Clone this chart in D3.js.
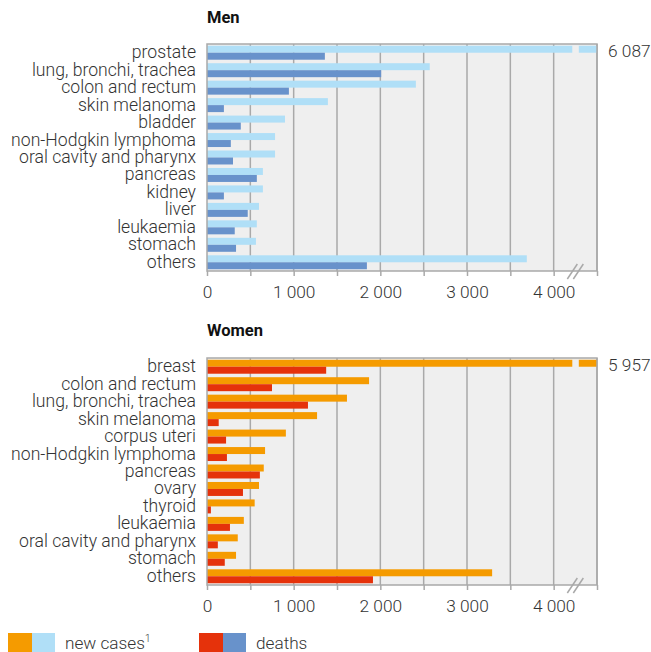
<!DOCTYPE html>
<html><head><meta charset="utf-8">
<script src="https://cdn.jsdelivr.net/npm/d3@7/dist/d3.min.js"></script>
<style>body{margin:0;background:#fff}text{font-family:Roboto,"Noto Sans",sans-serif}</style>
</head><body><svg id="c" width="651" height="652"></svg>
<script>
const menCategories = ["prostate","lung, bronchi, trachea","colon and rectum","skin melanoma","bladder","non-Hodgkin lymphoma","oral cavity and pharynx","pancreas","kidney","liver","leukaemia","stomach","others"];
const menNewCases = [6087,2570,2410,1395,900,785,785,645,645,600,575,565,3690];
const menDeaths = [1360,2010,945,195,390,275,300,575,195,470,320,335,1845];
const womenCategories = ["breast","colon and rectum","lung, bronchi, trachea","skin melanoma","corpus uteri","non-Hodgkin lymphoma","pancreas","ovary","thyroid","leukaemia","oral cavity and pharynx","stomach","others"];
const womenNewCases = [5957,1870,1615,1270,910,670,655,600,550,425,355,335,3290];
const womenDeaths = [1375,750,1165,135,220,230,610,415,45,265,125,205,1915];
const tickValues = [0,1000,2000,3000,4000];
const tickLabels = ["0","1 000","2 000","3 000","4 000"];

const svg = d3.select("#c");
const x = d3.scaleLinear().domain([0,4500]).range([207,597]);
const gridColor = "#a9a9a9", bg = "#efefef", txt = "#333";
const fmt = v => d3.format(",")(v).replace(/,/g," ");

function panel(title, titleY, top, bottom, cats, nc, de, cNew, cDeath){
  const y = d3.scaleBand().domain(cats).range([top,bottom]).paddingInner(0.2).paddingOuter(0.1);
  const g = svg.append("g");
  g.append("text").attr("x",207).attr("y",titleY).attr("font-weight","bold").attr("font-size",16.5).attr("fill","#111").text(title);
  g.append("rect").attr("x",x(0)).attr("y",top).attr("width",x(4500)-x(0)).attr("height",bottom-top).attr("fill",bg);
  g.selectAll(".gl").data(d3.range(500,4501,500)).join("line")
    .attr("x1",d=>x(d)).attr("x2",d=>x(d)).attr("y1",top).attr("y2",bottom)
    .attr("stroke",gridColor).attr("stroke-width",1.5);
  const bw = y.bandwidth()/2;
  const rows = cats.map((c,i)=>({c, n:nc[i], d:de[i]}));
  g.selectAll(".bn").data(rows).join("rect")
    .attr("x",x(0)).attr("y",r=>y(r.c)).attr("height",bw)
    .attr("width",r=>x(Math.min(r.n,4500))-x(0)).attr("fill",cNew);
  g.selectAll(".bd").data(rows).join("rect")
    .attr("x",x(0)).attr("y",r=>y(r.c)+bw).attr("height",bw)
    .attr("width",r=>x(Math.min(r.d,4500))-x(0)).attr("fill",cDeath);
  const br = rows.filter(r=>r.n>4500);
  g.selectAll(".gap").data(br).join("rect")
    .attr("x",x(4215)).attr("y",r=>y(r.c)-0.5).attr("width",x(4290)-x(4215)).attr("height",bw+1).attr("fill",bg);
  g.selectAll(".vl").data(br).join("text")
    .attr("x",608).attr("y",r=>y(r.c)+bw+4).attr("font-size",17.3).attr("font-weight",300).attr("fill",txt).text(r=>fmt(r.n));
  g.append("rect").attr("x",x(0)).attr("y",top).attr("width",x(4500)-x(0)).attr("height",bottom-top)
    .attr("fill","none").attr("stroke",gridColor).attr("stroke-width",1.5);
  g.selectAll(".cl").data(cats).join("text")
    .attr("x",196).attr("y",c=>y(c)+y.bandwidth()/2+5.5).attr("text-anchor","end")
    .attr("font-size",17.6).attr("font-weight",300).attr("fill",txt).text(c=>c);
  const axis = d3.axisBottom(x).tickValues(d3.range(0,4501,500)).tickSize(5).tickFormat(d=>{const i=tickValues.indexOf(d);return i>=0?tickLabels[i]:"";});
  const ag = g.append("g").attr("transform",`translate(0,${bottom})`).call(axis);
  ag.select(".domain").remove();
  ag.selectAll(".tick line").attr("stroke",gridColor).attr("stroke-width",1.5);
  ag.selectAll(".tick text").attr("font-size",17.3).attr("font-weight",300).attr("fill",txt).attr("dy","1.1em").style("font-family","Roboto");
  const bx = x(4250);
  [-3,3].forEach(o=>{
    g.append("line").attr("x1",bx+o-5).attr("y1",bottom+8).attr("x2",bx+o+5).attr("y2",bottom-7)
      .attr("stroke",gridColor).attr("stroke-width",1.5);
  });
}

panel("Men",23,44,271,menCategories,menNewCases,menDeaths,"#b0dff7","#6892cb");
panel("Women",336,358,585,womenCategories,womenNewCases,womenDeaths,"#f59b00","#e5320b");

const lg = svg.append("g");
const legendItems = [{x:8,c:["#f59b00","#b0dff7"],t:"new cases",sup:"1"},{x:199,c:["#e5320b","#6892cb"],t:"deaths"}];
legendItems.forEach(it=>{
  lg.append("rect").attr("x",it.x).attr("y",633).attr("width",24).attr("height",19).attr("fill",it.c[0]);
  lg.append("rect").attr("x",it.x+24).attr("y",633).attr("width",23).attr("height",19).attr("fill",it.c[1]);
  const t = lg.append("text").attr("x",it.x+57).attr("y",649).attr("font-size",17.2).attr("font-weight",300).attr("fill",txt).text(it.t);
  if(it.sup) t.append("tspan").attr("font-size",10).attr("dy",-7).text(it.sup);
});
</script></body></html>
